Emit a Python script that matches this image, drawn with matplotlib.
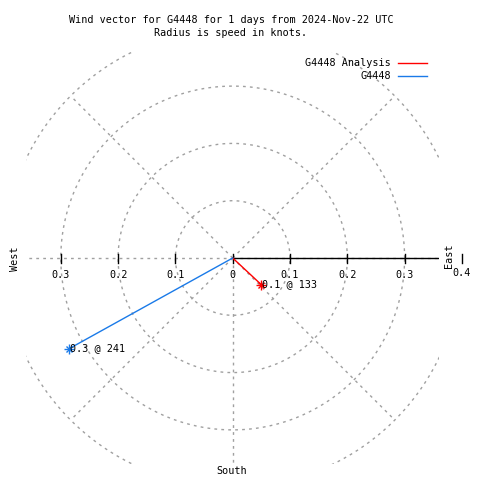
import numpy as np
import matplotlib
matplotlib.use("Agg")
import matplotlib.pyplot as plt
from matplotlib.lines import Line2D

# ---- data ----
title_lines = ["Wind vector for G4448 for 1 days from 2024-Nov-22 UTC",
               "Radius is speed in knots."]
series_names = ["G4448 Analysis", "G4448"]
speeds = [0.068, 0.326]          # knots
directions = [133, 241]          # degrees (compass bearing)
series_colors = ["#ff0000", "#1a7ae8"]
ring_radii = [0.1, 0.2, 0.3, 0.4]
spoke_bearings = [45, 90, 135, 180, 225, 270, 315]
tick_values = [-0.3, -0.2, -0.1, 0.0, 0.1, 0.2, 0.3, 0.4]
compass_labels = ["West", "East", "South"]
rmax = 0.36

plt.rcParams["font.family"] = ["DejaVu Sans Mono"]
FS = 7.3
W = H = 480.0

fig = plt.figure(figsize=(4.8, 4.8), dpi=100)
cx, cy, scale = 232.7, 258.0, 573.0
half = rmax * scale
ax = fig.add_axes([(cx - half) / W, (H - (cy + half)) / H, 2 * half / W, 2 * half / H])
ax.set_xlim(-rmax, rmax)
ax.set_ylim(-rmax, rmax)
ax.axis("off")

grid_kw = dict(color="#a0a0a0", lw=1.0, ls=(0, (2, 3)))
th = np.linspace(0, 2 * np.pi, 721)
for r in ring_radii:
    ax.plot(r * np.cos(th), r * np.sin(th), **grid_kw)
for b in spoke_bearings:
    br = np.radians(b)
    L = 0.5 if b % 90 == 0 else 0.4
    ax.plot([0, L * np.sin(br)], [0, L * np.cos(br)], **grid_kw)

# east radial axis
ax.plot([0, 0.4], [0, 0], color="black", lw=1.0)

# ticks and labels
tk = 4.5 / scale
for v in tick_values:
    ax.plot([v, v], [-tk, tk], color="black", lw=1.0, clip_on=False)
    lab = f"{abs(v):g}"
    dy = -15 if v > 0.35 else -17
    ax.annotate(lab, (v, 0), xytext=(0, dy * 0.72), textcoords="offset points",
                ha="center", va="center", fontsize=FS, annotation_clip=False)

# vectors
for s, d, c in zip(speeds, directions, series_colors):
    br = np.radians(d)
    x, y = s * np.sin(br), s * np.cos(br)
    ax.plot([0, x], [0, y], color=c, lw=1.0)
    ax.plot([x], [y], marker="+", ms=7, mew=1.0, color=c, clip_on=False)
    ax.plot([x], [y], marker="x", ms=5, mew=1.0, color=c, clip_on=False)
    ax.annotate(f"{s:.1f} @ {d}", (x, y), xytext=(1 * 0.72, 0), textcoords="offset points",
                ha="left", va="center", fontsize=FS, annotation_clip=False)

# titles
fig.text(231 / W, 1 - 20 / H, title_lines[0], ha="center", va="center", fontsize=FS)
fig.text(231 / W, 1 - 33 / H, title_lines[1], ha="center", va="center", fontsize=FS)

# compass labels
fig.text(15 / W, 1 - 259 / H, compass_labels[0], rotation=90, ha="center", va="center", fontsize=FS)
fig.text(449 / W, 1 - 256 / H, compass_labels[1], rotation=90, ha="center", va="center", fontsize=FS)
fig.text(232 / W, 1 - 471 / H, compass_labels[2], ha="center", va="center", fontsize=FS)

# legend
for i, (name, c) in enumerate(zip(series_names, series_colors)):
    yy = 1 - (63 + 13 * i) / H
    fig.text(391 / W, yy, name, ha="right", va="center", fontsize=FS)
    fig.add_artist(Line2D([398 / W, 427 / W], [yy, yy], color=c, lw=1.0,
                          transform=fig.transFigure))

fig.savefig("out.png", dpi=100)
